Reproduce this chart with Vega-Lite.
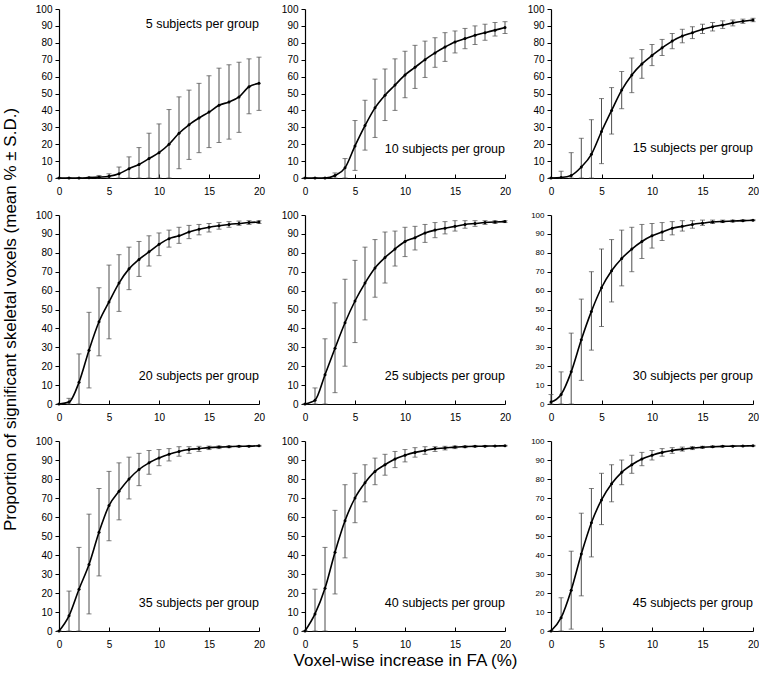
{
"$schema": "https://vega.github.io/schema/vega-lite/v6.json",
"padding": {"left": 1, "top": 4, "right": 4, "bottom": 4},
"background": "white",
"datasets": {
"series": [
{"n":5,"x":0,"m":0,"lo":0,"hi":0},{"n":5,"x":1,"m":0,"lo":0,"hi":0},{"n":5,"x":2,"m":0,"lo":0,"hi":0},{"n":5,"x":3,"m":0.2,"lo":0,"hi":0.5},{"n":5,"x":4,"m":0.5,"lo":0,"hi":1.5},{"n":5,"x":5,"m":1,"lo":0,"hi":2.5},{"n":5,"x":6,"m":2.5,"lo":0,"hi":6.5},{"n":5,"x":7,"m":5.5,"lo":0,"hi":12.5},{"n":5,"x":8,"m":8,"lo":0,"hi":18},{"n":5,"x":9,"m":11.5,"lo":0,"hi":26.5},{"n":5,"x":10,"m":15,"lo":0,"hi":32},{"n":5,"x":11,"m":20,"lo":0,"hi":40.5},{"n":5,"x":12,"m":26.5,"lo":5.5,"hi":48},{"n":5,"x":13,"m":31.5,"lo":11,"hi":52},{"n":5,"x":14,"m":35.5,"lo":15,"hi":56},{"n":5,"x":15,"m":39,"lo":18,"hi":60.5},{"n":5,"x":16,"m":43,"lo":21,"hi":65},{"n":5,"x":17,"m":45,"lo":23,"hi":67},{"n":5,"x":18,"m":48,"lo":27,"hi":68.5},{"n":5,"x":19,"m":54,"lo":38,"hi":70.5},{"n":5,"x":20,"m":56,"lo":40,"hi":71.5},
{"n":10,"x":0,"m":0,"lo":0,"hi":0},{"n":10,"x":1,"m":0,"lo":0,"hi":0},{"n":10,"x":2,"m":0,"lo":0,"hi":0},{"n":10,"x":3,"m":1.5,"lo":0,"hi":3},{"n":10,"x":4,"m":6,"lo":0,"hi":11.5},{"n":10,"x":5,"m":19,"lo":4.5,"hi":34},{"n":10,"x":6,"m":31,"lo":16.5,"hi":46},{"n":10,"x":7,"m":41.5,"lo":24,"hi":58.5},{"n":10,"x":8,"m":49,"lo":34,"hi":64.5},{"n":10,"x":9,"m":55,"lo":40,"hi":70.5},{"n":10,"x":10,"m":61,"lo":47.5,"hi":75},{"n":10,"x":11,"m":65.5,"lo":53,"hi":78.5},{"n":10,"x":12,"m":70,"lo":59.5,"hi":81},{"n":10,"x":13,"m":74,"lo":65.5,"hi":83},{"n":10,"x":14,"m":77.5,"lo":69,"hi":86},{"n":10,"x":15,"m":80.5,"lo":74,"hi":87},{"n":10,"x":16,"m":82.5,"lo":76.5,"hi":88.5},{"n":10,"x":17,"m":84.5,"lo":79,"hi":90},{"n":10,"x":18,"m":86,"lo":81.5,"hi":91},{"n":10,"x":19,"m":87.5,"lo":84,"hi":92},{"n":10,"x":20,"m":89,"lo":85.5,"hi":92.5},
{"n":15,"x":0,"m":0,"lo":0,"hi":0},{"n":15,"x":1,"m":0.3,"lo":0,"hi":4},{"n":15,"x":2,"m":1.5,"lo":0,"hi":15},{"n":15,"x":3,"m":6.5,"lo":0,"hi":23.5},{"n":15,"x":4,"m":14,"lo":0,"hi":34.5},{"n":15,"x":5,"m":27.5,"lo":8.5,"hi":47},{"n":15,"x":6,"m":40,"lo":26,"hi":53.5},{"n":15,"x":7,"m":52,"lo":41,"hi":63},{"n":15,"x":8,"m":61,"lo":50.5,"hi":71},{"n":15,"x":9,"m":67.5,"lo":59,"hi":76},{"n":15,"x":10,"m":72.5,"lo":66.5,"hi":79},{"n":15,"x":11,"m":77,"lo":72.5,"hi":82},{"n":15,"x":12,"m":81,"lo":76.5,"hi":85.5},{"n":15,"x":13,"m":84,"lo":80,"hi":88},{"n":15,"x":14,"m":86,"lo":82.5,"hi":89.5},{"n":15,"x":15,"m":88,"lo":85.5,"hi":91},{"n":15,"x":16,"m":89.5,"lo":87,"hi":92},{"n":15,"x":17,"m":90.5,"lo":88.5,"hi":93},{"n":15,"x":18,"m":91.8,"lo":90,"hi":93.5},{"n":15,"x":19,"m":92.8,"lo":91.5,"hi":94},{"n":15,"x":20,"m":93.5,"lo":92.5,"hi":94.5},
{"n":20,"x":0,"m":0,"lo":0,"hi":0},{"n":20,"x":1,"m":1,"lo":0,"hi":3},{"n":20,"x":2,"m":11.5,"lo":0,"hi":26.5},{"n":20,"x":3,"m":28.5,"lo":8.5,"hi":48.5},{"n":20,"x":4,"m":43.5,"lo":25.5,"hi":61.5},{"n":20,"x":5,"m":54,"lo":34.5,"hi":73.5},{"n":20,"x":6,"m":64,"lo":49,"hi":79},{"n":20,"x":7,"m":71.5,"lo":60.5,"hi":83},{"n":20,"x":8,"m":76.5,"lo":67.5,"hi":86},{"n":20,"x":9,"m":80.5,"lo":73,"hi":89},{"n":20,"x":10,"m":84.5,"lo":78.5,"hi":90.5},{"n":20,"x":11,"m":87.5,"lo":83,"hi":92},{"n":20,"x":12,"m":89,"lo":85,"hi":93.5},{"n":20,"x":13,"m":91,"lo":87.5,"hi":94.5},{"n":20,"x":14,"m":92.5,"lo":89.5,"hi":95},{"n":20,"x":15,"m":93.5,"lo":91,"hi":95.5},{"n":20,"x":16,"m":94.3,"lo":92.5,"hi":96},{"n":20,"x":17,"m":95,"lo":93.5,"hi":96.5},{"n":20,"x":18,"m":95.5,"lo":94.5,"hi":96.8},{"n":20,"x":19,"m":96,"lo":95,"hi":97},{"n":20,"x":20,"m":96.3,"lo":95.5,"hi":97},
{"n":25,"x":0,"m":0,"lo":0,"hi":0},{"n":25,"x":1,"m":2,"lo":0,"hi":8.5},{"n":25,"x":2,"m":15.5,"lo":0,"hi":34.5},{"n":25,"x":3,"m":29.5,"lo":6,"hi":53.5},{"n":25,"x":4,"m":43,"lo":20,"hi":66},{"n":25,"x":5,"m":54.5,"lo":32.5,"hi":76},{"n":25,"x":6,"m":64,"lo":44.5,"hi":83},{"n":25,"x":7,"m":72,"lo":56.5,"hi":87},{"n":25,"x":8,"m":77.5,"lo":64,"hi":91},{"n":25,"x":9,"m":82,"lo":73,"hi":91.5},{"n":25,"x":10,"m":86,"lo":78,"hi":93.5},{"n":25,"x":11,"m":88,"lo":81.5,"hi":94},{"n":25,"x":12,"m":90.5,"lo":85.5,"hi":95},{"n":25,"x":13,"m":92,"lo":88,"hi":96},{"n":25,"x":14,"m":93,"lo":90,"hi":96.5},{"n":25,"x":15,"m":94,"lo":91.5,"hi":97},{"n":25,"x":16,"m":95,"lo":93,"hi":97},{"n":25,"x":17,"m":95.5,"lo":94,"hi":97},{"n":25,"x":18,"m":96,"lo":95,"hi":97},{"n":25,"x":19,"m":96.3,"lo":95.5,"hi":97},{"n":25,"x":20,"m":96.5,"lo":96,"hi":97},
{"n":30,"x":0,"m":1,"lo":0,"hi":5},{"n":30,"x":1,"m":5,"lo":0,"hi":17},{"n":30,"x":2,"m":17,"lo":0,"hi":37.5},{"n":30,"x":3,"m":34,"lo":12.5,"hi":55.5},{"n":30,"x":4,"m":49,"lo":28.5,"hi":70},{"n":30,"x":5,"m":61.5,"lo":41,"hi":82},{"n":30,"x":6,"m":70.5,"lo":54,"hi":87},{"n":30,"x":7,"m":77,"lo":62.5,"hi":92},{"n":30,"x":8,"m":82,"lo":70,"hi":93.5},{"n":30,"x":9,"m":86,"lo":77,"hi":95},{"n":30,"x":10,"m":89,"lo":82.5,"hi":95.5},{"n":30,"x":11,"m":91,"lo":86.5,"hi":96},{"n":30,"x":12,"m":93,"lo":89.5,"hi":96.5},{"n":30,"x":13,"m":94,"lo":91.5,"hi":97},{"n":30,"x":14,"m":95,"lo":93,"hi":97},{"n":30,"x":15,"m":95.7,"lo":94.5,"hi":97.3},{"n":30,"x":16,"m":96.3,"lo":95.5,"hi":97.3},{"n":30,"x":17,"m":96.6,"lo":96,"hi":97.3},{"n":30,"x":18,"m":96.8,"lo":96.3,"hi":97.3},{"n":30,"x":19,"m":97,"lo":96.7,"hi":97.4},{"n":30,"x":20,"m":97.2,"lo":97,"hi":97.5},
{"n":35,"x":0,"m":0,"lo":0,"hi":0},{"n":35,"x":1,"m":8,"lo":0,"hi":21},{"n":35,"x":2,"m":22,"lo":0,"hi":44},{"n":35,"x":3,"m":35,"lo":9,"hi":61.5},{"n":35,"x":4,"m":52,"lo":29,"hi":75},{"n":35,"x":5,"m":66,"lo":47.5,"hi":84},{"n":35,"x":6,"m":73.5,"lo":58.5,"hi":88.5},{"n":35,"x":7,"m":80,"lo":69.5,"hi":91.5},{"n":35,"x":8,"m":85,"lo":76.5,"hi":93.5},{"n":35,"x":9,"m":88.5,"lo":82.5,"hi":95},{"n":35,"x":10,"m":91,"lo":87,"hi":95.5},{"n":35,"x":11,"m":93,"lo":89.5,"hi":96},{"n":35,"x":12,"m":94.5,"lo":92,"hi":97},{"n":35,"x":13,"m":95.5,"lo":93.5,"hi":97},{"n":35,"x":14,"m":96,"lo":94.5,"hi":97.2},{"n":35,"x":15,"m":96.5,"lo":95.5,"hi":97.3},{"n":35,"x":16,"m":96.8,"lo":96,"hi":97.4},{"n":35,"x":17,"m":97,"lo":96.5,"hi":97.5},{"n":35,"x":18,"m":97.2,"lo":96.8,"hi":97.5},{"n":35,"x":19,"m":97.3,"lo":97,"hi":97.6},{"n":35,"x":20,"m":97.5,"lo":97.2,"hi":97.7},
{"n":40,"x":0,"m":0,"lo":0,"hi":0},{"n":40,"x":1,"m":9,"lo":0,"hi":22},{"n":40,"x":2,"m":22.5,"lo":0,"hi":44},{"n":40,"x":3,"m":41.5,"lo":19.5,"hi":63.5},{"n":40,"x":4,"m":58,"lo":38.5,"hi":77},{"n":40,"x":5,"m":70,"lo":57,"hi":83},{"n":40,"x":6,"m":78,"lo":68,"hi":87.5},{"n":40,"x":7,"m":84,"lo":77,"hi":91},{"n":40,"x":8,"m":87.5,"lo":82,"hi":93},{"n":40,"x":9,"m":90.5,"lo":86,"hi":94.5},{"n":40,"x":10,"m":92.5,"lo":89,"hi":95.5},{"n":40,"x":11,"m":94,"lo":91.5,"hi":96.5},{"n":40,"x":12,"m":95,"lo":93,"hi":97},{"n":40,"x":13,"m":96,"lo":94.5,"hi":97},{"n":40,"x":14,"m":96.3,"lo":95.3,"hi":97.2},{"n":40,"x":15,"m":96.8,"lo":96,"hi":97.4},{"n":40,"x":16,"m":97,"lo":96.5,"hi":97.5},{"n":40,"x":17,"m":97.2,"lo":96.8,"hi":97.5},{"n":40,"x":18,"m":97.3,"lo":97,"hi":97.6},{"n":40,"x":19,"m":97.4,"lo":97.2,"hi":97.6},{"n":40,"x":20,"m":97.5,"lo":97.3,"hi":97.7},
{"n":45,"x":0,"m":0,"lo":0,"hi":0},{"n":45,"x":1,"m":7,"lo":0,"hi":17.5},{"n":45,"x":2,"m":21.5,"lo":1,"hi":42},{"n":45,"x":3,"m":40.5,"lo":18.5,"hi":62},{"n":45,"x":4,"m":57,"lo":39,"hi":75},{"n":45,"x":5,"m":69,"lo":56,"hi":83},{"n":45,"x":6,"m":77.5,"lo":68,"hi":87.5},{"n":45,"x":7,"m":83.5,"lo":77,"hi":90},{"n":45,"x":8,"m":87.5,"lo":83,"hi":92.5},{"n":45,"x":9,"m":90.5,"lo":87,"hi":94},{"n":45,"x":10,"m":92.5,"lo":90,"hi":95},{"n":45,"x":11,"m":94,"lo":92,"hi":96},{"n":45,"x":12,"m":95,"lo":93.5,"hi":96.5},{"n":45,"x":13,"m":95.7,"lo":94.7,"hi":96.8},{"n":45,"x":14,"m":96.3,"lo":95.5,"hi":97},{"n":45,"x":15,"m":96.7,"lo":96.2,"hi":97.2},{"n":45,"x":16,"m":97,"lo":96.6,"hi":97.4},{"n":45,"x":17,"m":97.2,"lo":96.9,"hi":97.5},{"n":45,"x":18,"m":97.3,"lo":97.1,"hi":97.5},{"n":45,"x":19,"m":97.4,"lo":97.2,"hi":97.6},{"n":45,"x":20,"m":97.5,"lo":97.3,"hi":97.7}
],
"labels": [
{"n":5,"label":"5 subjects per group"},{"n":10,"label":"10 subjects per group"},{"n":15,"label":"15 subjects per group"},
{"n":20,"label":"20 subjects per group"},{"n":25,"label":"25 subjects per group"},{"n":30,"label":"30 subjects per group"},
{"n":35,"label":"35 subjects per group"},{"n":40,"label":"40 subjects per group"},{"n":45,"label":"45 subjects per group"}
]
},
"columns": 3,
"spacing": {"row": 37, "column": 46},
"bounds": "flush",
"align": "each",
"concat": [
{"width": 200, "height": 169, "layer": [
 {"data": {"name": "series"}, "transform": [{"filter": "datum.n == 5"}], "mark": {"type": "errorbar", "color": "#4d4d4d", "ticks": true, "size": 5, "thickness": 1}, "encoding": {"x": {"field": "x", "type": "quantitative", "scale": {"domain": [0, 20], "nice": false}, "axis": {"values": [0,5,10,15,20], "title": null}}, "y": {"field": "lo", "type": "quantitative", "scale": {"domain": [0, 100], "nice": false}, "axis": {"values": [0,10,20,30,40,50,60,70,80,90,100], "title": null}}, "y2": {"field": "hi"}}},
 {"data": {"name": "series"}, "transform": [{"filter": "datum.n == 5"}], "mark": {"type": "line", "color": "black", "strokeWidth": 1.6, "interpolate": "monotone", "point": {"filled": true, "color": "black", "size": 9}}, "encoding": {"x": {"field": "x", "type": "quantitative", "scale": {"domain": [0, 20], "nice": false}, "axis": {"values": [0,5,10,15,20], "title": null}}, "y": {"field": "m", "type": "quantitative", "scale": {"domain": [0, 100], "nice": false}, "axis": {"values": [0,10,20,30,40,50,60,70,80,90,100], "title": null}}}},
 {"data": {"name": "labels"}, "transform": [{"filter": "datum.n == 5"}], "mark": {"type": "text", "align": "right", "baseline": "middle", "font": "Liberation Sans", "fontSize": 12.5, "color": "black"}, "encoding": {"x": {"datum": 20, "type": "quantitative", "axis": {"values": [0,5,10,15,20], "title": null}}, "y": {"datum": 91, "type": "quantitative", "axis": {"values": [0,10,20,30,40,50,60,70,80,90,100], "title": null}}, "text": {"field": "label"}}}
]},
{"width": 200, "height": 169, "layer": [
 {"data": {"name": "series"}, "transform": [{"filter": "datum.n == 10"}], "mark": {"type": "errorbar", "color": "#4d4d4d", "ticks": true, "size": 5, "thickness": 1}, "encoding": {"x": {"field": "x", "type": "quantitative", "scale": {"domain": [0, 20], "nice": false}, "axis": {"values": [0,5,10,15,20], "title": null}}, "y": {"field": "lo", "type": "quantitative", "scale": {"domain": [0, 100], "nice": false}, "axis": {"values": [0,10,20,30,40,50,60,70,80,90,100], "title": null}}, "y2": {"field": "hi"}}},
 {"data": {"name": "series"}, "transform": [{"filter": "datum.n == 10"}], "mark": {"type": "line", "color": "black", "strokeWidth": 1.6, "interpolate": "monotone", "point": {"filled": true, "color": "black", "size": 9}}, "encoding": {"x": {"field": "x", "type": "quantitative", "scale": {"domain": [0, 20], "nice": false}, "axis": {"values": [0,5,10,15,20], "title": null}}, "y": {"field": "m", "type": "quantitative", "scale": {"domain": [0, 100], "nice": false}, "axis": {"values": [0,10,20,30,40,50,60,70,80,90,100], "title": null}}}},
 {"data": {"name": "labels"}, "transform": [{"filter": "datum.n == 10"}], "mark": {"type": "text", "align": "right", "baseline": "middle", "font": "Liberation Sans", "fontSize": 12.5, "color": "black"}, "encoding": {"x": {"datum": 20, "type": "quantitative", "axis": {"values": [0,5,10,15,20], "title": null}}, "y": {"datum": 17, "type": "quantitative", "axis": {"values": [0,10,20,30,40,50,60,70,80,90,100], "title": null}}, "text": {"field": "label"}}}
]},
{"width": 202, "height": 169, "layer": [
 {"data": {"name": "series"}, "transform": [{"filter": "datum.n == 15"}], "mark": {"type": "errorbar", "color": "#4d4d4d", "ticks": true, "size": 5, "thickness": 1}, "encoding": {"x": {"field": "x", "type": "quantitative", "scale": {"domain": [0, 20], "nice": false}, "axis": {"values": [0,5,10,15,20], "title": null}}, "y": {"field": "lo", "type": "quantitative", "scale": {"domain": [0, 100], "nice": false}, "axis": {"values": [0,10,20,30,40,50,60,70,80,90,100], "title": null}}, "y2": {"field": "hi"}}},
 {"data": {"name": "series"}, "transform": [{"filter": "datum.n == 15"}], "mark": {"type": "line", "color": "black", "strokeWidth": 1.6, "interpolate": "monotone", "point": {"filled": true, "color": "black", "size": 9}}, "encoding": {"x": {"field": "x", "type": "quantitative", "scale": {"domain": [0, 20], "nice": false}, "axis": {"values": [0,5,10,15,20], "title": null}}, "y": {"field": "m", "type": "quantitative", "scale": {"domain": [0, 100], "nice": false}, "axis": {"values": [0,10,20,30,40,50,60,70,80,90,100], "title": null}}}},
 {"data": {"name": "labels"}, "transform": [{"filter": "datum.n == 15"}], "mark": {"type": "text", "align": "right", "baseline": "middle", "font": "Liberation Sans", "fontSize": 12.5, "color": "black"}, "encoding": {"x": {"datum": 20, "type": "quantitative", "axis": {"values": [0,5,10,15,20], "title": null}}, "y": {"datum": 18, "type": "quantitative", "axis": {"values": [0,10,20,30,40,50,60,70,80,90,100], "title": null}}, "text": {"field": "label"}}}
]},
{"width": 200, "height": 189, "layer": [
 {"data": {"name": "series"}, "transform": [{"filter": "datum.n == 20"}], "mark": {"type": "errorbar", "color": "#4d4d4d", "ticks": true, "size": 5, "thickness": 1}, "encoding": {"x": {"field": "x", "type": "quantitative", "scale": {"domain": [0, 20], "nice": false}, "axis": {"values": [0,5,10,15,20], "title": null}}, "y": {"field": "lo", "type": "quantitative", "scale": {"domain": [0, 100], "nice": false}, "axis": {"values": [0,10,20,30,40,50,60,70,80,90,100], "title": "Proportion of significant skeletal voxels  (mean % ± S.D.)", "titleY": 104, "titlePadding": 16}}, "y2": {"field": "hi"}}},
 {"data": {"name": "series"}, "transform": [{"filter": "datum.n == 20"}], "mark": {"type": "line", "color": "black", "strokeWidth": 1.6, "interpolate": "monotone", "point": {"filled": true, "color": "black", "size": 9}}, "encoding": {"x": {"field": "x", "type": "quantitative", "scale": {"domain": [0, 20], "nice": false}, "axis": {"values": [0,5,10,15,20], "title": null}}, "y": {"field": "m", "type": "quantitative", "scale": {"domain": [0, 100], "nice": false}, "axis": {"values": [0,10,20,30,40,50,60,70,80,90,100], "title": "Proportion of significant skeletal voxels  (mean % ± S.D.)", "titleY": 104, "titlePadding": 16}}}},
 {"data": {"name": "labels"}, "transform": [{"filter": "datum.n == 20"}], "mark": {"type": "text", "align": "right", "baseline": "middle", "font": "Liberation Sans", "fontSize": 12.5, "color": "black"}, "encoding": {"x": {"datum": 20, "type": "quantitative", "axis": {"values": [0,5,10,15,20], "title": null}}, "y": {"datum": 15, "type": "quantitative", "axis": {"values": [0,10,20,30,40,50,60,70,80,90,100], "title": "Proportion of significant skeletal voxels  (mean % ± S.D.)", "titleY": 104, "titlePadding": 16}}, "text": {"field": "label"}}}
]},
{"width": 200, "height": 189, "layer": [
 {"data": {"name": "series"}, "transform": [{"filter": "datum.n == 25"}], "mark": {"type": "errorbar", "color": "#4d4d4d", "ticks": true, "size": 5, "thickness": 1}, "encoding": {"x": {"field": "x", "type": "quantitative", "scale": {"domain": [0, 20], "nice": false}, "axis": {"values": [0,5,10,15,20], "title": null}}, "y": {"field": "lo", "type": "quantitative", "scale": {"domain": [0, 100], "nice": false}, "axis": {"values": [0,10,20,30,40,50,60,70,80,90,100], "title": null}}, "y2": {"field": "hi"}}},
 {"data": {"name": "series"}, "transform": [{"filter": "datum.n == 25"}], "mark": {"type": "line", "color": "black", "strokeWidth": 1.6, "interpolate": "monotone", "point": {"filled": true, "color": "black", "size": 9}}, "encoding": {"x": {"field": "x", "type": "quantitative", "scale": {"domain": [0, 20], "nice": false}, "axis": {"values": [0,5,10,15,20], "title": null}}, "y": {"field": "m", "type": "quantitative", "scale": {"domain": [0, 100], "nice": false}, "axis": {"values": [0,10,20,30,40,50,60,70,80,90,100], "title": null}}}},
 {"data": {"name": "labels"}, "transform": [{"filter": "datum.n == 25"}], "mark": {"type": "text", "align": "right", "baseline": "middle", "font": "Liberation Sans", "fontSize": 12.5, "color": "black"}, "encoding": {"x": {"datum": 20, "type": "quantitative", "axis": {"values": [0,5,10,15,20], "title": null}}, "y": {"datum": 15, "type": "quantitative", "axis": {"values": [0,10,20,30,40,50,60,70,80,90,100], "title": null}}, "text": {"field": "label"}}}
]},
{"width": 202, "height": 189, "layer": [
 {"data": {"name": "series"}, "transform": [{"filter": "datum.n == 30"}], "mark": {"type": "errorbar", "color": "#4d4d4d", "ticks": true, "size": 5, "thickness": 1}, "encoding": {"x": {"field": "x", "type": "quantitative", "scale": {"domain": [0, 20], "nice": false}, "axis": {"values": [0,5,10,15,20], "title": null}}, "y": {"field": "lo", "type": "quantitative", "scale": {"domain": [0, 100], "nice": false}, "axis": {"values": [0,10,20,30,40,50,60,70,80,90,100], "title": null, "labelFontSize": 8}}, "y2": {"field": "hi"}}},
 {"data": {"name": "series"}, "transform": [{"filter": "datum.n == 30"}], "mark": {"type": "line", "color": "black", "strokeWidth": 1.6, "interpolate": "monotone", "point": {"filled": true, "color": "black", "size": 9}}, "encoding": {"x": {"field": "x", "type": "quantitative", "scale": {"domain": [0, 20], "nice": false}, "axis": {"values": [0,5,10,15,20], "title": null}}, "y": {"field": "m", "type": "quantitative", "scale": {"domain": [0, 100], "nice": false}, "axis": {"values": [0,10,20,30,40,50,60,70,80,90,100], "title": null, "labelFontSize": 8}}}},
 {"data": {"name": "labels"}, "transform": [{"filter": "datum.n == 30"}], "mark": {"type": "text", "align": "right", "baseline": "middle", "font": "Liberation Sans", "fontSize": 12.5, "color": "black"}, "encoding": {"x": {"datum": 20, "type": "quantitative", "axis": {"values": [0,5,10,15,20], "title": null}}, "y": {"datum": 15, "type": "quantitative", "axis": {"values": [0,10,20,30,40,50,60,70,80,90,100], "title": null, "labelFontSize": 8}}, "text": {"field": "label"}}}
]},
{"width": 200, "height": 190, "layer": [
 {"data": {"name": "series"}, "transform": [{"filter": "datum.n == 35"}], "mark": {"type": "errorbar", "color": "#4d4d4d", "ticks": true, "size": 5, "thickness": 1}, "encoding": {"x": {"field": "x", "type": "quantitative", "scale": {"domain": [0, 20], "nice": false}, "axis": {"values": [0,5,10,15,20], "title": null}}, "y": {"field": "lo", "type": "quantitative", "scale": {"domain": [0, 100], "nice": false}, "axis": {"values": [0,10,20,30,40,50,60,70,80,90,100], "title": null}}, "y2": {"field": "hi"}}},
 {"data": {"name": "series"}, "transform": [{"filter": "datum.n == 35"}], "mark": {"type": "line", "color": "black", "strokeWidth": 1.6, "interpolate": "monotone", "point": {"filled": true, "color": "black", "size": 9}}, "encoding": {"x": {"field": "x", "type": "quantitative", "scale": {"domain": [0, 20], "nice": false}, "axis": {"values": [0,5,10,15,20], "title": null}}, "y": {"field": "m", "type": "quantitative", "scale": {"domain": [0, 100], "nice": false}, "axis": {"values": [0,10,20,30,40,50,60,70,80,90,100], "title": null}}}},
 {"data": {"name": "labels"}, "transform": [{"filter": "datum.n == 35"}], "mark": {"type": "text", "align": "right", "baseline": "middle", "font": "Liberation Sans", "fontSize": 12.5, "color": "black"}, "encoding": {"x": {"datum": 20, "type": "quantitative", "axis": {"values": [0,5,10,15,20], "title": null}}, "y": {"datum": 15, "type": "quantitative", "axis": {"values": [0,10,20,30,40,50,60,70,80,90,100], "title": null}}, "text": {"field": "label"}}}
]},
{"width": 200, "height": 190, "layer": [
 {"data": {"name": "series"}, "transform": [{"filter": "datum.n == 40"}], "mark": {"type": "errorbar", "color": "#4d4d4d", "ticks": true, "size": 5, "thickness": 1}, "encoding": {"x": {"field": "x", "type": "quantitative", "scale": {"domain": [0, 20], "nice": false}, "axis": {"values": [0,5,10,15,20], "title": "Voxel-wise increase in FA (%)", "titlePadding": 3}}, "y": {"field": "lo", "type": "quantitative", "scale": {"domain": [0, 100], "nice": false}, "axis": {"values": [0,10,20,30,40,50,60,70,80,90,100], "title": null}}, "y2": {"field": "hi"}}},
 {"data": {"name": "series"}, "transform": [{"filter": "datum.n == 40"}], "mark": {"type": "line", "color": "black", "strokeWidth": 1.6, "interpolate": "monotone", "point": {"filled": true, "color": "black", "size": 9}}, "encoding": {"x": {"field": "x", "type": "quantitative", "scale": {"domain": [0, 20], "nice": false}, "axis": {"values": [0,5,10,15,20], "title": "Voxel-wise increase in FA (%)", "titlePadding": 3}}, "y": {"field": "m", "type": "quantitative", "scale": {"domain": [0, 100], "nice": false}, "axis": {"values": [0,10,20,30,40,50,60,70,80,90,100], "title": null}}}},
 {"data": {"name": "labels"}, "transform": [{"filter": "datum.n == 40"}], "mark": {"type": "text", "align": "right", "baseline": "middle", "font": "Liberation Sans", "fontSize": 12.5, "color": "black"}, "encoding": {"x": {"datum": 20, "type": "quantitative", "axis": {"values": [0,5,10,15,20], "title": "Voxel-wise increase in FA (%)", "titlePadding": 3}}, "y": {"datum": 15, "type": "quantitative", "axis": {"values": [0,10,20,30,40,50,60,70,80,90,100], "title": null}}, "text": {"field": "label"}}}
]},
{"width": 202, "height": 190, "layer": [
 {"data": {"name": "series"}, "transform": [{"filter": "datum.n == 45"}], "mark": {"type": "errorbar", "color": "#4d4d4d", "ticks": true, "size": 5, "thickness": 1}, "encoding": {"x": {"field": "x", "type": "quantitative", "scale": {"domain": [0, 20], "nice": false}, "axis": {"values": [0,5,10,15,20], "title": null}}, "y": {"field": "lo", "type": "quantitative", "scale": {"domain": [0, 100], "nice": false}, "axis": {"values": [0,10,20,30,40,50,60,70,80,90,100], "title": null, "labelFontSize": 8}}, "y2": {"field": "hi"}}},
 {"data": {"name": "series"}, "transform": [{"filter": "datum.n == 45"}], "mark": {"type": "line", "color": "black", "strokeWidth": 1.6, "interpolate": "monotone", "point": {"filled": true, "color": "black", "size": 9}}, "encoding": {"x": {"field": "x", "type": "quantitative", "scale": {"domain": [0, 20], "nice": false}, "axis": {"values": [0,5,10,15,20], "title": null}}, "y": {"field": "m", "type": "quantitative", "scale": {"domain": [0, 100], "nice": false}, "axis": {"values": [0,10,20,30,40,50,60,70,80,90,100], "title": null, "labelFontSize": 8}}}},
 {"data": {"name": "labels"}, "transform": [{"filter": "datum.n == 45"}], "mark": {"type": "text", "align": "right", "baseline": "middle", "font": "Liberation Sans", "fontSize": 12.5, "color": "black"}, "encoding": {"x": {"datum": 20, "type": "quantitative", "axis": {"values": [0,5,10,15,20], "title": null}}, "y": {"datum": 15, "type": "quantitative", "axis": {"values": [0,10,20,30,40,50,60,70,80,90,100], "title": null, "labelFontSize": 8}}, "text": {"field": "label"}}}
]}
],
"config": {
 "view": {"stroke": null},
 "axis": {"grid": false, "labelOverlap": false, "domainColor": "black", "domainWidth": 1.2, "tickColor": "black", "tickWidth": 1, "labelColor": "black", "labelFont": "Liberation Sans", "labelFontSize": 10, "titleFont": "Liberation Sans", "titleFontSize": 17, "titleFontWeight": "normal", "titleColor": "black"},
 "axisX": {"tickSize": -4, "labelPadding": 12, "labelFlush": false},
 "axisY": {"tickSize": 4, "labelPadding": 3}
}
}
